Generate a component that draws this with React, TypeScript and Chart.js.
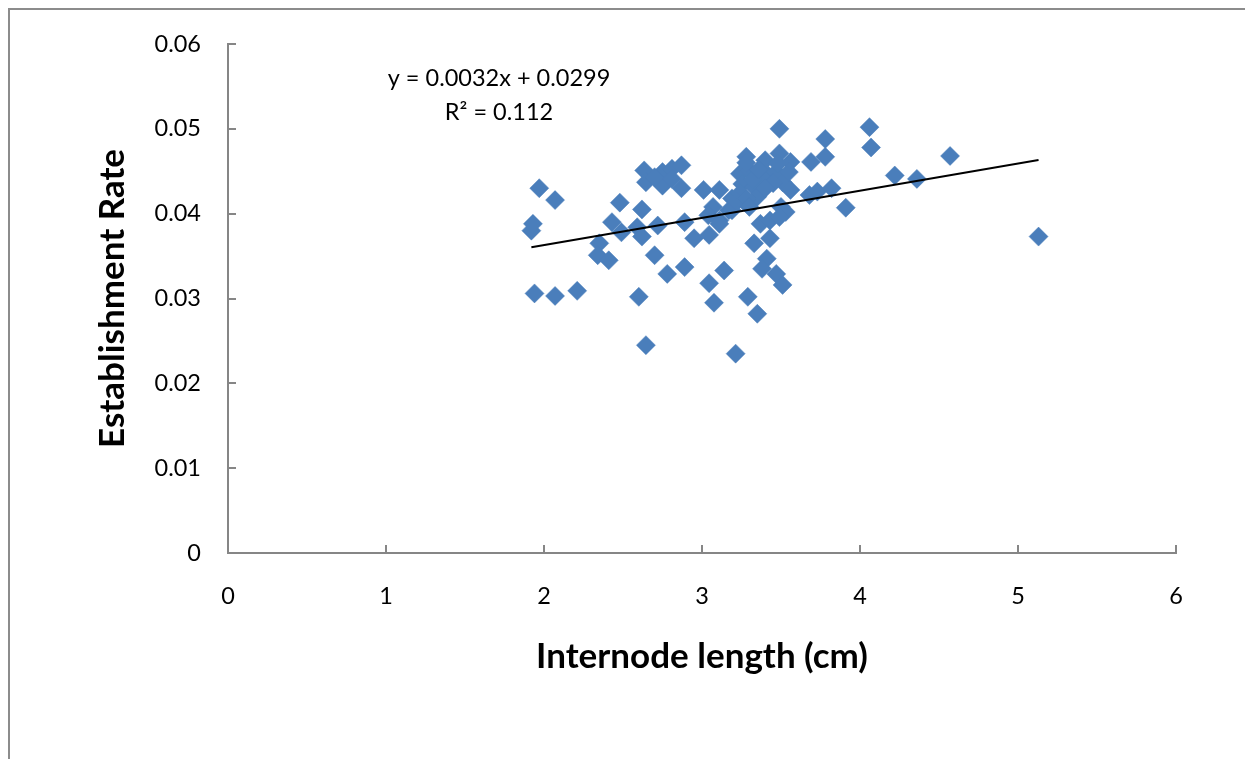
import React, { useEffect, useRef } from "react";
import { Chart, registerables } from "chart.js";

Chart.register(...registerables);

// Internode length (cm)
const xValues: number[] = [
  1.92, 1.93, 1.97, 2.07, 1.94, 2.07, 2.21,
  2.35, 2.34, 2.41, 2.43, 2.48, 2.49,
  2.59, 2.62, 2.62, 2.60, 2.645, 2.70, 2.72, 2.634, 2.645, 2.75, 2.75, 2.70,
  2.81, 2.81, 2.87, 2.87, 2.78, 2.89, 2.89, 2.95,
  3.01, 3.045, 3.045, 3.076, 3.14, 3.213, 3.07, 3.11, 3.11, 3.17, 3.19, 3.19, 3.11, 3.04,
  3.29, 3.35, 3.28, 3.24, 3.30, 3.255, 3.24, 3.22, 3.33, 3.35, 3.40, 3.42, 3.38,
  3.47, 3.49, 3.48, 3.51, 3.56, 3.55, 3.56, 3.50, 3.53, 3.37, 3.43, 3.49, 3.43,
  3.33, 3.41, 3.38, 3.47, 3.51, 3.49, 3.32, 3.36, 3.28, 3.30, 3.45, 3.40, 3.28,
  3.69, 3.78, 3.78, 4.06, 4.07, 3.68, 3.73, 3.82, 3.91, 4.22, 4.36, 4.57, 5.13,
];

// Establishment rate
const yValues: number[] = [
  0.0380, 0.0388, 0.0430, 0.0416, 0.0306, 0.0303, 0.0309,
  0.0365, 0.0351, 0.0345, 0.0390, 0.0413, 0.0378,
  0.0384, 0.0373, 0.0405, 0.0302, 0.0245, 0.0351, 0.0386, 0.0451, 0.0437, 0.0449, 0.0433, 0.0443,
  0.0453, 0.0441, 0.0457, 0.0430, 0.0329, 0.0337, 0.0390, 0.0371,
  0.0428, 0.0375, 0.0318, 0.0295, 0.0333, 0.0235, 0.0408, 0.0428, 0.0392, 0.0404, 0.0418, 0.0404, 0.0388, 0.0398,
  0.0302, 0.0282, 0.0467, 0.0447, 0.0451, 0.0435, 0.0424, 0.0414, 0.0431, 0.0420, 0.0463, 0.0445, 0.0443,
  0.0449, 0.0471, 0.0459, 0.0437, 0.0461, 0.0449, 0.0428, 0.0408, 0.0402, 0.0388, 0.0392, 0.0396, 0.0371,
  0.0365, 0.0347, 0.0335, 0.0329, 0.0316, 0.0500, 0.0440, 0.0452, 0.0418, 0.0408, 0.0436, 0.0430, 0.0460,
  0.0461, 0.0488, 0.0467, 0.0502, 0.0478, 0.0422, 0.0426, 0.0430, 0.0407, 0.0445, 0.0441, 0.0468, 0.0373,
];

// Trend line as printed on the chart
const trendSlope = 0.0032;
const trendIntercept = 0.0299;
const equationLines: string[] = ["y = 0.0032x + 0.0299", "R² = 0.112"];

const xTicks: number[] = [0, 1, 2, 3, 4, 5, 6];
const yTicks: number[] = [0, 0.01, 0.02, 0.03, 0.04, 0.05, 0.06];

const FONT = "Lato, 'Open Sans', sans-serif";

export default function App() {
  const ref = useRef<HTMLCanvasElement | null>(null);

  useEffect(() => {
    if (!ref.current) return;
    const points = xValues.map((x, i) => ({ x, y: yValues[i] }));
    const xMin = Math.min(...xValues);
    const xMax = Math.max(...xValues);
    const trend = [
      { x: xMin, y: trendSlope * xMin + trendIntercept },
      { x: xMax, y: trendSlope * xMax + trendIntercept },
    ];

    const innerTicks = {
      id: "innerTicks",
      afterDatasetsDraw(chart: any) {
        const { ctx, chartArea, scales } = chart;
        ctx.save();
        ctx.strokeStyle = "#868686";
        ctx.lineWidth = 2;
        ctx.beginPath();
        xTicks.forEach((t) => {
          const px = Math.round(scales.x.getPixelForValue(t));
          ctx.moveTo(px, chartArea.bottom);
          ctx.lineTo(px, chartArea.bottom - 8);
        });
        yTicks.forEach((t) => {
          const py = Math.round(scales.y.getPixelForValue(t));
          ctx.moveTo(chartArea.left, py);
          ctx.lineTo(chartArea.left + 8, py);
        });
        ctx.stroke();
        ctx.fillStyle = "#000";
        ctx.font = `23.5px ${FONT}`;
        ctx.textAlign = "center";
        ctx.textBaseline = "middle";
        ctx.fillText(equationLines[0], 499, 78);
        ctx.fillText(equationLines[1], 499, 112);
        ctx.restore();
      },
    };

    const chart = new Chart(ref.current, {
      type: "scatter",
      data: {
        datasets: [
          {
            label: "Establishment Rate",
            data: points,
            pointStyle: "rectRot",
            pointRadius: 9.5,
            pointHoverRadius: 9.5,
            backgroundColor: "#4A7EBB",
            borderColor: "#4A7EBB",
            borderWidth: 0.5,
            order: 2,
          },
          {
            type: "line",
            label: "Linear",
            data: trend,
            borderColor: "#000",
            borderWidth: 2,
            pointRadius: 0,
            fill: false,
            order: 1,
          } as any,
        ],
      },
      options: {
        animation: false,
        responsive: false,
        maintainAspectRatio: false,
        layout: { padding: { left: 0, right: 69, top: 44, bottom: 0 } },
        plugins: { legend: { display: false }, tooltip: { enabled: false } },
        scales: {
          x: {
            type: "linear",
            min: 0,
            max: 6,
            afterBuildTicks: (s: any) => {
              s.ticks = xTicks.map((v) => ({ value: v }));
            },
            afterFit: (s: any) => {
              s.height = 206;
            },
            grid: { display: false, drawTicks: false },
            border: { display: true, color: "#868686", width: 2 },
            ticks: {
              color: "#000",
              font: { family: FONT, size: 23.5 },
              padding: 29,
              callback: (v: any) => String(v),
            },
            title: {
              display: true,
              text: "Internode length (cm)",
              color: "#000",
              font: { family: FONT, size: 35, weight: "bold" },
              padding: { top: 0, bottom: 81 },
            },
          },
          y: {
            type: "linear",
            min: 0,
            max: 0.06,
            afterBuildTicks: (s: any) => {
              s.ticks = yTicks.map((v) => ({ value: v }));
            },
            afterFit: (s: any) => {
              s.width = 228;
            },
            grid: { display: false, drawTicks: false },
            border: { display: true, color: "#868686", width: 2 },
            ticks: {
              color: "#000",
              font: { family: FONT, size: 23.5 },
              padding: 27,
              callback: (v: any) => (v === 0 ? "0" : Number(v).toFixed(2)),
            },
            title: {
              display: true,
              text: "Establishment Rate",
              color: "#000",
              font: { family: FONT, size: 35, weight: "bold" },
              padding: { top: 92, bottom: 0 },
            },
          },
        },
      },
      plugins: [innerTicks],
    });
    return () => chart.destroy();
  }, []);

  return (
    <div style={{ position: "fixed", left: 0, top: 0, width: 1245, height: 759, background: "#fff", overflow: "hidden" }}>
      <div
        style={{
          position: "absolute",
          left: 8,
          top: 8,
          width: 1400,
          height: 900,
          borderTop: "2px solid #8c8c8c",
          borderLeft: "2px solid #8c8c8c",
        }}
      />
      <canvas ref={ref} width={1245} height={759} style={{ position: "absolute", left: 0, top: 0, width: 1245, height: 759 }} />
    </div>
  );
}
